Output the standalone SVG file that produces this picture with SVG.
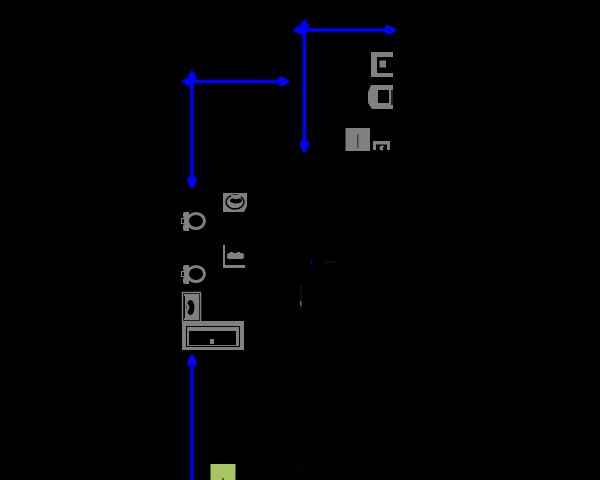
<svg xmlns="http://www.w3.org/2000/svg" width="600" height="480" viewBox="0 0 600 480">
<defs>
<marker id="tip" markerWidth="4" markerHeight="4" refX="2" refY="2" orient="auto-start-reverse" markerUnits="strokeWidth"><path d="M0.200,0.800 Q2,0.600 3.300,2 Q2,3.400 0.200,3.200 Z" fill="#0000ff" stroke="#0000ff" stroke-width="0.200"/></marker>
</defs>
<style>
.c{stroke:#0000ff;stroke-width:3.500;fill:none;marker-start:url(#tip);marker-end:url(#tip)}
.g{fill:#808080}.k{fill:#000}.s{fill:none;stroke:#808080}
</style>
<rect width="600" height="480" fill="#000"/>
<g id="connectors">
<path class="c" d="M304.500 24V148"/>
<path class="c" d="M298 30H392"/>
<path class="c" d="M186 81.500H285"/>
<path class="c" d="M192 75V184"/>
<path d="M192 480V359" class="c" style="marker-start:none"/>
</g>
<g id="n1"><rect class="g" x="371" y="52" width="22" height="25"/><rect class="k" x="377" y="57" width="17" height="16"/><rect class="g" x="379.500" y="60.500" width="6.500" height="7"/></g>
<g id="n2"><path class="g" d="M371 85H393V109H372L368 103V92Z"/><rect class="k" x="378" y="90" width="11" height="13"/><rect x="391" y="90" width="2" height="15" fill="#222"/></g>
<g id="n3"><rect class="g" x="345.500" y="128" width="24.500" height="23"/><rect x="357" y="134" width="1.500" height="14" fill="#444"/></g>
<g id="n4"><rect class="g" x="373" y="141" width="17" height="9"/><rect class="k" x="376" y="144.500" width="11" height="5.500"/><circle class="g" cx="382" cy="148" r="2.500"/><rect x="383" y="147" width="2" height="3" fill="#000"/></g>
<g id="n5"><path class="g" d="M223 193H247V206L244 212H223Z"/><ellipse cx="235" cy="202" rx="9" ry="7" fill="none" stroke="#000" stroke-width="1.500"/><ellipse cx="236" cy="200.500" rx="6" ry="3" fill="#000"/><path class="g" d="M231 197.500Q236 201 241 197.500L241 195H231Z"/></g>
<g id="n6"><ellipse class="s" cx="196" cy="221" rx="8.500" ry="7.500" stroke-width="3"/><rect class="g" x="183" y="212" width="6" height="6" rx="2"/><rect class="g" x="183" y="224" width="6" height="7" rx="2"/><rect class="g" x="185" y="212" width="4" height="19"/><rect class="s" x="181.500" y="218.500" width="3" height="5" stroke-width="1"/></g>
<g id="n7"><path class="g" d="M223 245H225V265H245V268H223Z"/><rect class="g" x="227" y="253" width="17" height="6" rx="2"/><rect class="g" x="230" y="252" width="3" height="3"/><rect class="g" x="237" y="252" width="3" height="3"/></g>
<g id="n8"><ellipse class="s" cx="196" cy="274" rx="8.500" ry="7.500" stroke-width="3"/><rect class="g" x="183" y="265" width="6" height="6" rx="2"/><rect class="g" x="183" y="277" width="6" height="7" rx="2"/><rect class="g" x="185" y="265" width="4" height="19"/><rect class="s" x="181.500" y="271.500" width="3" height="5" stroke-width="1"/></g>
<g id="n9"><rect class="s" x="182.500" y="292.500" width="18" height="29" stroke-width="1.500"/><rect class="g" x="184" y="294" width="15" height="26"/><rect x="184" y="296" width="1" height="22" fill="#000"/><ellipse class="k" cx="190.500" cy="307.500" rx="4" ry="7.500"/><path class="g" d="M187 303Q192 307 187 312Z"/></g>
<g id="n10"><rect class="g" x="182" y="321" width="62" height="29"/><rect x="186.500" y="326.500" width="53" height="20" fill="none" stroke="#000" stroke-width="1"/><rect class="k" x="189" y="331" width="47" height="14"/><rect class="g" x="210" y="339" width="4" height="5"/></g>
<g id="n11"><rect x="210.500" y="464" width="25" height="16" fill="#a8c563"/><rect x="222" y="478" width="2" height="2" fill="#4a5a2a"/></g>
<g id="specks"><rect x="301" y="466" width="2" height="2" fill="#000080"/><rect x="310.500" y="259.500" width="1.500" height="4" fill="#0000c0"/><path d="M325 262H335" stroke="#2a2a2a" stroke-width="1" stroke-dasharray="2 1"/><path d="M301 285V310" stroke="#1c1c1c"/><rect x="300" y="301" width="1.500" height="5" fill="#666"/></g>
</svg>
